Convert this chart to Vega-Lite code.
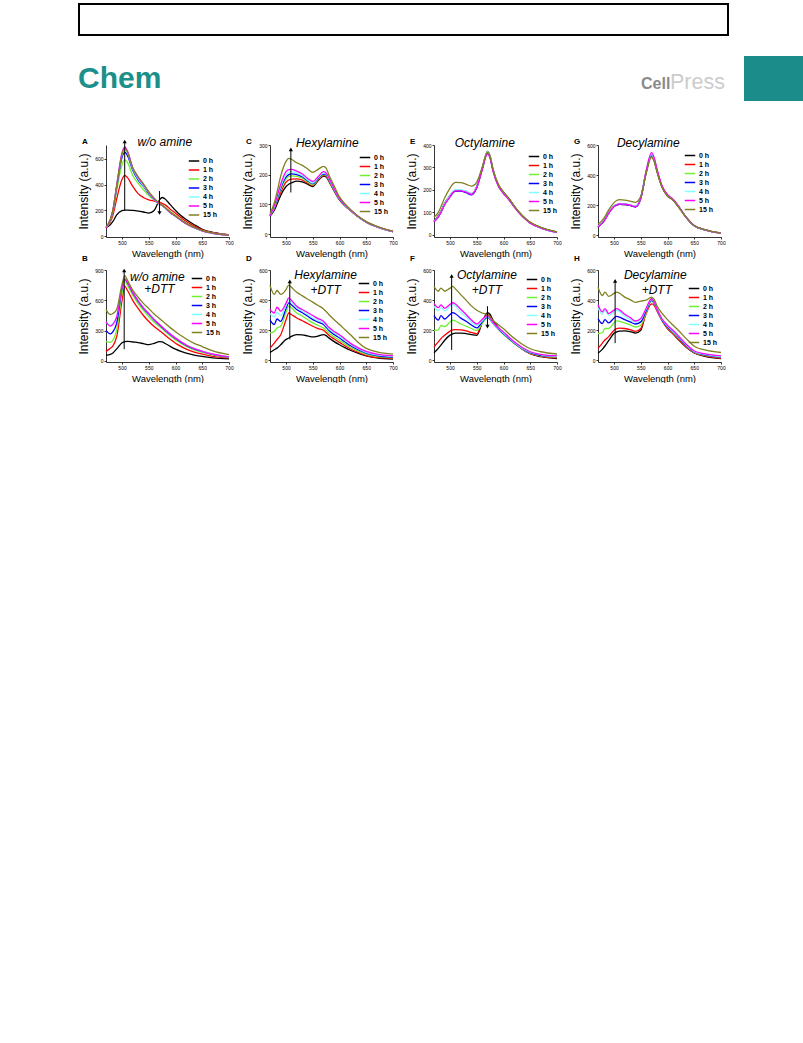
{
"$schema":"https://vega.github.io/schema/vega-lite/v6.json",
"background":"white",
"padding":{"left":77,"top":2,"right":0,"bottom":0},
"autosize":{"type":"pad"},
"spacing":35,
"config":{
 "view":{"stroke":null},
 "font":"Liberation Sans",
 "axis":{"grid":false,"domainColor":"#000","tickColor":"#000","labelColor":"#000","titleColor":"#000","labelFontSize":5,"titleFontSize":9.5,"titleFontWeight":"normal","tickSize":2,"labelPadding":1,"labelFlush":false,"labelOverlap":false,"labelBound":false,"labelSeparation":0,"domainWidth":0.8,"tickWidth":0.8,"labelFont":"Liberation Sans","titleFont":"Liberation Sans"},
 "axisY":{"titleFontSize":12,"titlePadding":4},
 "axisX":{"titlePadding":3},
 "legend":{"symbolType":"stroke","symbolSize":110,"symbolStrokeWidth":1.5,"labelFontSize":7,"labelFontWeight":"bold","labelFont":"Liberation Sans","rowPadding":-0.7,"padding":0,"labelOffset":3,"labelColor":"#000"},
 "text":{"font":"Liberation Sans","color":"#000"}
},
"vconcat":[
{
 "width":698,"height":98,
 "data":{"values":[{}]},
 "layer":[
  {"mark":{"type":"rect","filled":false,"color":"#000","strokeWidth":2},"encoding":{"x":{"datum":78,"type":"quantitative","scale":{"domain":[105,803],"nice":false,"zero":false},"axis":null},"x2":{"datum":727},"y":{"datum":3,"type":"quantitative","scale":{"domain":[2,100],"reverse":true,"nice":false,"zero":false},"axis":null},"y2":{"datum":34}}},
  {"mark":{"type":"rect","color":"#1b8c89"},"encoding":{"x":{"datum":743,"type":"quantitative","axis":null},"x2":{"datum":803},"y":{"datum":55,"type":"quantitative","axis":null},"y2":{"datum":100}}},
  {"mark":{"type":"text","text":"Chem","align":"left","baseline":"alphabetic","fontSize":30,"fontWeight":"bold","color":"#1b8f8a"},"encoding":{"x":{"datum":77,"type":"quantitative","axis":null},"y":{"datum":87,"type":"quantitative","axis":null}}},
  {"mark":{"type":"text","text":"Cell","align":"left","baseline":"alphabetic","fontSize":16,"fontWeight":"bold","color":"#8a8a8a"},"encoding":{"x":{"datum":640,"type":"quantitative","axis":null},"y":{"datum":88,"type":"quantitative","axis":null}}},
  {"mark":{"type":"text","text":"Press","align":"left","baseline":"alphabetic","fontSize":21.5,"color":"#cccccc"},"encoding":{"x":{"datum":669,"type":"quantitative","axis":null},"y":{"datum":88,"type":"quantitative","axis":null}}}
 ]
},
{
 "columns":4,
 "spacing":{"row":33,"column":41},
 "bounds":"flush",
 "resolve":{"scale":{"color":"independent","x":"independent","y":"independent"}},
 "data":{"values":[
{"p":"A","w":470,"0 h":70,"1 h":65,"2 h":65,"3 h":65,"4 h":65,"5 h":65,"15 h":75},
{"p":"A","w":478,"0 h":90,"1 h":110,"2 h":120,"3 h":125,"4 h":125,"5 h":128,"15 h":130},
{"p":"A","w":483,"0 h":115,"1 h":165,"2 h":190,"3 h":200,"4 h":205,"5 h":205,"15 h":205},
{"p":"A","w":490,"0 h":165,"1 h":290,"2 h":350,"3 h":380,"4 h":390,"5 h":395,"15 h":390},
{"p":"A","w":500,"0 h":198,"1 h":440,"2 h":555,"3 h":610,"4 h":630,"5 h":645,"15 h":635},
{"p":"A","w":505,"0 h":202,"1 h":470,"2 h":590,"3 h":650,"4 h":670,"5 h":690,"15 h":680},
{"p":"A","w":510,"0 h":203,"1 h":455,"2 h":570,"3 h":625,"4 h":645,"5 h":660,"15 h":650},
{"p":"A","w":520,"0 h":200,"1 h":385,"2 h":470,"3 h":510,"4 h":520,"5 h":530,"15 h":530},
{"p":"A","w":530,"0 h":195,"1 h":330,"2 h":410,"3 h":435,"4 h":445,"5 h":455,"15 h":460},
{"p":"A","w":540,"0 h":188,"1 h":300,"2 h":360,"3 h":385,"4 h":390,"5 h":400,"15 h":405},
{"p":"A","w":550,"0 h":180,"1 h":282,"2 h":315,"3 h":330,"4 h":335,"5 h":340,"15 h":345},
{"p":"A","w":560,"0 h":200,"1 h":272,"2 h":280,"3 h":285,"4 h":285,"5 h":290,"15 h":295},
{"p":"A","w":570,"0 h":280,"1 h":262,"2 h":250,"3 h":250,"4 h":248,"5 h":250,"15 h":255},
{"p":"A","w":575,"0 h":300,"1 h":255,"2 h":240,"3 h":238,"4 h":236,"5 h":238,"15 h":240},
{"p":"A","w":580,"0 h":290,"1 h":245,"2 h":225,"3 h":222,"4 h":220,"5 h":222,"15 h":225},
{"p":"A","w":590,"0 h":245,"1 h":210,"2 h":190,"3 h":185,"4 h":185,"5 h":185,"15 h":188},
{"p":"A","w":600,"0 h":200,"1 h":178,"2 h":160,"3 h":155,"4 h":155,"5 h":155,"15 h":158},
{"p":"A","w":610,"0 h":160,"1 h":145,"2 h":130,"3 h":125,"4 h":125,"5 h":125,"15 h":128},
{"p":"A","w":620,"0 h":130,"1 h":115,"2 h":100,"3 h":97,"4 h":96,"5 h":97,"15 h":100},
{"p":"A","w":635,"0 h":90,"1 h":80,"2 h":70,"3 h":68,"4 h":67,"5 h":68,"15 h":70},
{"p":"A","w":650,"0 h":55,"1 h":50,"2 h":45,"3 h":43,"4 h":42,"5 h":43,"15 h":45},
{"p":"A","w":670,"0 h":30,"1 h":28,"2 h":25,"3 h":24,"4 h":24,"5 h":24,"15 h":25},
{"p":"A","w":700,"0 h":12,"1 h":12,"2 h":10,"3 h":10,"4 h":10,"5 h":10,"15 h":10},
{"p":"C","w":470,"0 h":60,"1 h":62,"2 h":62,"3 h":62,"4 h":63,"5 h":63,"15 h":70},
{"p":"C","w":478,"0 h":80,"1 h":85,"2 h":88,"3 h":90,"4 h":92,"5 h":95,"15 h":105},
{"p":"C","w":483,"0 h":100,"1 h":108,"2 h":112,"3 h":115,"4 h":120,"5 h":125,"15 h":140},
{"p":"C","w":490,"0 h":130,"1 h":140,"2 h":150,"3 h":155,"4 h":160,"5 h":168,"15 h":195},
{"p":"C","w":500,"0 h":160,"1 h":175,"2 h":185,"3 h":192,"4 h":200,"5 h":210,"15 h":245},
{"p":"C","w":505,"0 h":168,"1 h":182,"2 h":194,"3 h":200,"4 h":208,"5 h":217,"15 h":255},
{"p":"C","w":510,"0 h":172,"1 h":185,"2 h":196,"3 h":203,"4 h":210,"5 h":218,"15 h":252},
{"p":"C","w":520,"0 h":178,"1 h":186,"2 h":194,"3 h":200,"4 h":205,"5 h":212,"15 h":240},
{"p":"C","w":530,"0 h":176,"1 h":182,"2 h":188,"3 h":193,"4 h":197,"5 h":203,"15 h":232},
{"p":"C","w":540,"0 h":168,"1 h":172,"2 h":176,"3 h":180,"4 h":183,"5 h":188,"15 h":220},
{"p":"C","w":550,"0 h":160,"1 h":163,"2 h":166,"3 h":170,"4 h":172,"5 h":177,"15 h":208},
{"p":"C","w":560,"0 h":180,"1 h":182,"2 h":185,"3 h":188,"4 h":190,"5 h":193,"15 h":218},
{"p":"C","w":570,"0 h":195,"1 h":198,"2 h":200,"3 h":203,"4 h":205,"5 h":210,"15 h":228},
{"p":"C","w":575,"0 h":192,"1 h":195,"2 h":197,"3 h":200,"4 h":202,"5 h":206,"15 h":222},
{"p":"C","w":580,"0 h":178,"1 h":180,"2 h":182,"3 h":185,"4 h":187,"5 h":190,"15 h":200},
{"p":"C","w":590,"0 h":145,"1 h":146,"2 h":148,"3 h":150,"4 h":151,"5 h":153,"15 h":162},
{"p":"C","w":600,"0 h":115,"1 h":116,"2 h":117,"3 h":118,"4 h":119,"5 h":120,"15 h":125},
{"p":"C","w":610,"0 h":95,"1 h":96,"2 h":97,"3 h":98,"4 h":98,"5 h":99,"15 h":102},
{"p":"C","w":620,"0 h":80,"1 h":80,"2 h":80,"3 h":81,"4 h":81,"5 h":82,"15 h":84},
{"p":"C","w":635,"0 h":58,"1 h":58,"2 h":58,"3 h":58,"4 h":58,"5 h":59,"15 h":60},
{"p":"C","w":650,"0 h":40,"1 h":40,"2 h":40,"3 h":40,"4 h":40,"5 h":41,"15 h":42},
{"p":"C","w":670,"0 h":24,"1 h":24,"2 h":24,"3 h":24,"4 h":24,"5 h":25,"15 h":26},
{"p":"C","w":700,"0 h":8,"1 h":8,"2 h":8,"3 h":8,"4 h":8,"5 h":9,"15 h":10},
{"p":"E","w":470,"0 h":62,"1 h":60,"2 h":60,"3 h":58,"4 h":60,"5 h":58,"15 h":78},
{"p":"E","w":478,"0 h":85,"1 h":82,"2 h":82,"3 h":80,"4 h":82,"5 h":80,"15 h":100},
{"p":"E","w":483,"0 h":105,"1 h":102,"2 h":102,"3 h":100,"4 h":102,"5 h":100,"15 h":125},
{"p":"E","w":490,"0 h":140,"1 h":138,"2 h":138,"3 h":135,"4 h":138,"5 h":135,"15 h":165},
{"p":"E","w":500,"0 h":175,"1 h":172,"2 h":172,"3 h":170,"4 h":175,"5 h":170,"15 h":208},
{"p":"E","w":505,"0 h":190,"1 h":188,"2 h":188,"3 h":186,"4 h":192,"5 h":188,"15 h":225},
{"p":"E","w":510,"0 h":198,"1 h":196,"2 h":196,"3 h":194,"4 h":200,"5 h":196,"15 h":233},
{"p":"E","w":520,"0 h":198,"1 h":196,"2 h":196,"3 h":194,"4 h":200,"5 h":196,"15 h":232},
{"p":"E","w":530,"0 h":193,"1 h":190,"2 h":190,"3 h":188,"4 h":194,"5 h":190,"15 h":225},
{"p":"E","w":540,"0 h":183,"1 h":180,"2 h":180,"3 h":178,"4 h":184,"5 h":180,"15 h":217},
{"p":"E","w":550,"0 h":215,"1 h":212,"2 h":212,"3 h":210,"4 h":215,"5 h":212,"15 h":235},
{"p":"E","w":560,"0 h":295,"1 h":292,"2 h":292,"3 h":290,"4 h":295,"5 h":290,"15 h":300},
{"p":"E","w":570,"0 h":372,"1 h":368,"2 h":370,"3 h":365,"4 h":370,"5 h":360,"15 h":368},
{"p":"E","w":575,"0 h":350,"1 h":346,"2 h":348,"3 h":344,"4 h":348,"5 h":340,"15 h":348},
{"p":"E","w":580,"0 h":295,"1 h":292,"2 h":293,"3 h":290,"4 h":292,"5 h":286,"15 h":295},
{"p":"E","w":590,"0 h":225,"1 h":222,"2 h":222,"3 h":220,"4 h":222,"5 h":218,"15 h":226},
{"p":"E","w":600,"0 h":190,"1 h":187,"2 h":187,"3 h":185,"4 h":186,"5 h":183,"15 h":190},
{"p":"E","w":610,"0 h":162,"1 h":160,"2 h":160,"3 h":158,"4 h":159,"5 h":156,"15 h":162},
{"p":"E","w":620,"0 h":128,"1 h":126,"2 h":126,"3 h":125,"4 h":125,"5 h":123,"15 h":128},
{"p":"E","w":635,"0 h":85,"1 h":84,"2 h":84,"3 h":83,"4 h":83,"5 h":82,"15 h":86},
{"p":"E","w":650,"0 h":55,"1 h":54,"2 h":54,"3 h":53,"4 h":53,"5 h":52,"15 h":56},
{"p":"E","w":670,"0 h":32,"1 h":31,"2 h":31,"3 h":30,"4 h":30,"5 h":30,"15 h":33},
{"p":"E","w":700,"0 h":12,"1 h":12,"2 h":12,"3 h":11,"4 h":11,"5 h":11,"15 h":13},
{"p":"G","w":470,"0 h":60,"1 h":58,"2 h":60,"3 h":58,"4 h":60,"5 h":58,"15 h":75},
{"p":"G","w":478,"0 h":85,"1 h":82,"2 h":85,"3 h":82,"4 h":85,"5 h":82,"15 h":100},
{"p":"G","w":483,"0 h":108,"1 h":105,"2 h":108,"3 h":105,"4 h":108,"5 h":105,"15 h":125},
{"p":"G","w":490,"0 h":150,"1 h":148,"2 h":150,"3 h":148,"4 h":150,"5 h":148,"15 h":170},
{"p":"G","w":500,"0 h":195,"1 h":192,"2 h":195,"3 h":192,"4 h":195,"5 h":192,"15 h":218},
{"p":"G","w":505,"0 h":205,"1 h":202,"2 h":205,"3 h":202,"4 h":205,"5 h":204,"15 h":232},
{"p":"G","w":510,"0 h":210,"1 h":207,"2 h":210,"3 h":207,"4 h":212,"5 h":210,"15 h":238},
{"p":"G","w":520,"0 h":208,"1 h":205,"2 h":208,"3 h":205,"4 h":210,"5 h":208,"15 h":235},
{"p":"G","w":530,"0 h":202,"1 h":199,"2 h":202,"3 h":199,"4 h":203,"5 h":201,"15 h":228},
{"p":"G","w":540,"0 h":193,"1 h":190,"2 h":193,"3 h":190,"4 h":194,"5 h":192,"15 h":220},
{"p":"G","w":550,"0 h":250,"1 h":245,"2 h":250,"3 h":245,"4 h":250,"5 h":248,"15 h":260},
{"p":"G","w":560,"0 h":420,"1 h":415,"2 h":420,"3 h":418,"4 h":425,"5 h":428,"15 h":410},
{"p":"G","w":570,"0 h":530,"1 h":532,"2 h":535,"3 h":538,"4 h":540,"5 h":550,"15 h":518},
{"p":"G","w":575,"0 h":500,"1 h":500,"2 h":505,"3 h":508,"4 h":510,"5 h":518,"15 h":490},
{"p":"G","w":580,"0 h":432,"1 h":430,"2 h":435,"3 h":437,"4 h":438,"5 h":445,"15 h":425},
{"p":"G","w":590,"0 h":320,"1 h":318,"2 h":320,"3 h":322,"4 h":323,"5 h":328,"15 h":318},
{"p":"G","w":600,"0 h":265,"1 h":262,"2 h":264,"3 h":265,"4 h":266,"5 h":270,"15 h":262},
{"p":"G","w":610,"0 h":238,"1 h":235,"2 h":236,"3 h":237,"4 h":238,"5 h":242,"15 h":235},
{"p":"G","w":620,"0 h":195,"1 h":192,"2 h":193,"3 h":194,"4 h":195,"5 h":198,"15 h":193},
{"p":"G","w":635,"0 h":120,"1 h":118,"2 h":118,"3 h":119,"4 h":120,"5 h":121,"15 h":120},
{"p":"G","w":650,"0 h":65,"1 h":64,"2 h":64,"3 h":64,"4 h":65,"5 h":66,"15 h":66},
{"p":"G","w":670,"0 h":38,"1 h":37,"2 h":37,"3 h":37,"4 h":38,"5 h":38,"15 h":39},
{"p":"G","w":700,"0 h":15,"1 h":15,"2 h":15,"3 h":15,"4 h":15,"5 h":15,"15 h":17},
{"p":"B","w":470,"0 h":55,"1 h":95,"2 h":192,"3 h":300,"4 h":385,"5 h":388,"15 h":508},
{"p":"B","w":478,"0 h":65,"1 h":125,"2 h":185,"3 h":268,"4 h":355,"5 h":345,"15 h":460},
{"p":"B","w":483,"0 h":80,"1 h":150,"2 h":205,"3 h":290,"4 h":370,"5 h":362,"15 h":470},
{"p":"B","w":490,"0 h":120,"1 h":240,"2 h":310,"3 h":375,"4 h":440,"5 h":435,"15 h":510},
{"p":"B","w":500,"0 h":180,"1 h":600,"2 h":665,"3 h":720,"4 h":735,"5 h":730,"15 h":760},
{"p":"B","w":505,"0 h":192,"1 h":740,"2 h":795,"3 h":812,"4 h":818,"5 h":812,"15 h":845},
{"p":"B","w":510,"0 h":195,"1 h":700,"2 h":750,"3 h":775,"4 h":782,"5 h":778,"15 h":800},
{"p":"B","w":520,"0 h":188,"1 h":600,"2 h":650,"3 h":672,"4 h":680,"5 h":678,"15 h":700},
{"p":"B","w":530,"0 h":182,"1 h":520,"2 h":567,"3 h":590,"4 h":598,"5 h":596,"15 h":632},
{"p":"B","w":540,"0 h":172,"1 h":450,"2 h":500,"3 h":520,"4 h":528,"5 h":526,"15 h":570},
{"p":"B","w":550,"0 h":162,"1 h":390,"2 h":437,"3 h":463,"4 h":470,"5 h":468,"15 h":518},
{"p":"B","w":560,"0 h":175,"1 h":340,"2 h":385,"3 h":405,"4 h":412,"5 h":410,"15 h":465},
{"p":"B","w":570,"0 h":192,"1 h":300,"2 h":340,"3 h":355,"4 h":362,"5 h":360,"15 h":420},
{"p":"B","w":575,"0 h":188,"1 h":280,"2 h":318,"3 h":332,"4 h":338,"5 h":336,"15 h":398},
{"p":"B","w":580,"0 h":175,"1 h":258,"2 h":295,"3 h":308,"4 h":314,"5 h":312,"15 h":375},
{"p":"B","w":590,"0 h":145,"1 h":215,"2 h":250,"3 h":262,"4 h":268,"5 h":266,"15 h":330},
{"p":"B","w":600,"0 h":117,"1 h":176,"2 h":209,"3 h":222,"4 h":228,"5 h":226,"15 h":290},
{"p":"B","w":610,"0 h":95,"1 h":145,"2 h":175,"3 h":187,"4 h":192,"5 h":190,"15 h":252},
{"p":"B","w":620,"0 h":78,"1 h":118,"2 h":145,"3 h":155,"4 h":160,"5 h":158,"15 h":218},
{"p":"B","w":635,"0 h":58,"1 h":88,"2 h":110,"3 h":120,"4 h":124,"5 h":122,"15 h":175},
{"p":"B","w":650,"0 h":45,"1 h":68,"2 h":85,"3 h":95,"4 h":98,"5 h":96,"15 h":143},
{"p":"B","w":670,"0 h":30,"1 h":45,"2 h":58,"3 h":66,"4 h":68,"5 h":67,"15 h":100},
{"p":"B","w":700,"0 h":20,"1 h":30,"2 h":36,"3 h":40,"4 h":42,"5 h":41,"15 h":62},
{"p":"D","w":470,"0 h":53,"1 h":82,"2 h":182,"3 h":267,"4 h":311,"5 h":338,"15 h":498},
{"p":"D","w":478,"0 h":71,"1 h":115,"2 h":193,"3 h":238,"4 h":289,"5 h":315,"15 h":438},
{"p":"D","w":483,"0 h":82,"1 h":138,"2 h":215,"3 h":275,"4 h":320,"5 h":353,"15 h":464},
{"p":"D","w":490,"0 h":104,"1 h":171,"2 h":227,"3 h":260,"4 h":298,"5 h":327,"15 h":438},
{"p":"D","w":500,"0 h":140,"1 h":270,"2 h":320,"3 h":345,"4 h":365,"5 h":380,"15 h":470},
{"p":"D","w":505,"0 h":149,"1 h":315,"2 h":360,"3 h":382,"4 h":400,"5 h":415,"15 h":500},
{"p":"D","w":510,"0 h":160,"1 h":305,"2 h":350,"3 h":370,"4 h":385,"5 h":400,"15 h":485},
{"p":"D","w":520,"0 h":171,"1 h":282,"2 h":315,"3 h":338,"4 h":349,"5 h":360,"15 h":453},
{"p":"D","w":530,"0 h":170,"1 h":265,"2 h":295,"3 h":318,"4 h":328,"5 h":338,"15 h":430},
{"p":"D","w":540,"0 h":163,"1 h":245,"2 h":272,"3 h":295,"4 h":305,"5 h":318,"15 h":408},
{"p":"D","w":550,"0 h":156,"1 h":227,"2 h":249,"3 h":271,"4 h":282,"5 h":298,"15 h":387},
{"p":"D","w":560,"0 h":162,"1 h":212,"2 h":232,"3 h":254,"4 h":265,"5 h":278,"15 h":365},
{"p":"D","w":570,"0 h":171,"1 h":200,"2 h":215,"3 h":238,"4 h":249,"5 h":260,"15 h":342},
{"p":"D","w":575,"0 h":165,"1 h":185,"2 h":200,"3 h":220,"4 h":230,"5 h":240,"15 h":325},
{"p":"D","w":580,"0 h":150,"1 h":168,"2 h":183,"3 h":200,"4 h":210,"5 h":220,"15 h":305},
{"p":"D","w":590,"0 h":125,"1 h":142,"2 h":156,"3 h":172,"4 h":182,"5 h":192,"15 h":270},
{"p":"D","w":600,"0 h":104,"1 h":120,"2 h":133,"3 h":149,"4 h":160,"5 h":171,"15 h":238},
{"p":"D","w":610,"0 h":85,"1 h":98,"2 h":110,"3 h":124,"4 h":133,"5 h":142,"15 h":205},
{"p":"D","w":620,"0 h":68,"1 h":78,"2 h":88,"3 h":100,"4 h":108,"5 h":115,"15 h":172},
{"p":"D","w":635,"0 h":48,"1 h":54,"2 h":62,"3 h":72,"4 h":78,"5 h":84,"15 h":120},
{"p":"D","w":650,"0 h":31,"1 h":33,"2 h":42,"3 h":49,"4 h":53,"5 h":60,"15 h":80},
{"p":"D","w":670,"0 h":18,"1 h":20,"2 h":27,"3 h":33,"4 h":37,"5 h":42,"15 h":57},
{"p":"D","w":700,"0 h":9,"1 h":13,"2 h":18,"3 h":22,"4 h":27,"5 h":31,"15 h":42},
{"p":"F","w":470,"0 h":52,"1 h":91,"2 h":199,"3 h":297,"4 h":361,"5 h":377,"15 h":491},
{"p":"F","w":478,"0 h":80,"1 h":123,"2 h":203,"3 h":268,"4 h":329,"5 h":351,"15 h":459},
{"p":"F","w":483,"0 h":102,"1 h":145,"2 h":232,"3 h":297,"4 h":351,"5 h":368,"15 h":480},
{"p":"F","w":490,"0 h":134,"1 h":167,"2 h":225,"3 h":275,"4 h":329,"5 h":346,"15 h":459},
{"p":"F","w":500,"0 h":168,"1 h":195,"2 h":255,"3 h":305,"4 h":360,"5 h":372,"15 h":480},
{"p":"F","w":505,"0 h":177,"1 h":203,"2 h":268,"3 h":318,"4 h":372,"5 h":383,"15 h":491},
{"p":"F","w":510,"0 h":182,"1 h":205,"2 h":262,"3 h":310,"4 h":362,"5 h":375,"15 h":475},
{"p":"F","w":520,"0 h":182,"1 h":203,"2 h":242,"3 h":281,"4 h":318,"5 h":340,"15 h":437},
{"p":"F","w":530,"0 h":178,"1 h":196,"2 h":228,"3 h":260,"4 h":290,"5 h":305,"15 h":400},
{"p":"F","w":540,"0 h":172,"1 h":186,"2 h":212,"3 h":235,"4 h":255,"5 h":268,"15 h":362},
{"p":"F","w":550,"0 h":167,"1 h":177,"2 h":199,"3 h":216,"4 h":232,"5 h":242,"15 h":333},
{"p":"F","w":560,"0 h":250,"1 h":250,"2 h":245,"3 h":255,"4 h":262,"5 h":272,"15 h":315},
{"p":"F","w":570,"0 h":318,"1 h":305,"2 h":285,"3 h":288,"4 h":292,"5 h":297,"15 h":303},
{"p":"F","w":575,"0 h":305,"1 h":290,"2 h":272,"3 h":272,"4 h":275,"5 h":280,"15 h":290},
{"p":"F","w":580,"0 h":270,"1 h":260,"2 h":248,"3 h":248,"4 h":250,"5 h":255,"15 h":268},
{"p":"F","w":590,"0 h":220,"1 h":215,"2 h":208,"3 h":210,"4 h":213,"5 h":218,"15 h":238},
{"p":"F","w":600,"0 h":182,"1 h":177,"2 h":173,"3 h":177,"4 h":182,"5 h":188,"15 h":210},
{"p":"F","w":610,"0 h":150,"1 h":145,"2 h":142,"3 h":146,"4 h":150,"5 h":155,"15 h":178},
{"p":"F","w":620,"0 h":120,"1 h":115,"2 h":112,"3 h":116,"4 h":120,"5 h":124,"15 h":148},
{"p":"F","w":635,"0 h":75,"1 h":76,"2 h":76,"3 h":80,"4 h":82,"5 h":86,"15 h":108},
{"p":"F","w":650,"0 h":45,"1 h":46,"2 h":48,"3 h":52,"4 h":56,"5 h":58,"15 h":78},
{"p":"F","w":670,"0 h":25,"1 h":28,"2 h":30,"3 h":34,"4 h":38,"5 h":40,"15 h":58},
{"p":"F","w":700,"0 h":13,"1 h":17,"2 h":22,"3 h":26,"4 h":28,"5 h":30,"15 h":43},
{"p":"H","w":470,"0 h":48,"1 h":81,"2 h":179,"3 h":278,"4 h":350,"5 h":370,"15 h":486},
{"p":"H","w":478,"0 h":74,"1 h":114,"2 h":184,"3 h":245,"4 h":306,"5 h":322,"15 h":431},
{"p":"H","w":483,"0 h":96,"1 h":136,"2 h":212,"3 h":271,"4 h":333,"5 h":344,"15 h":453},
{"p":"H","w":490,"0 h":131,"1 h":158,"2 h":212,"3 h":249,"4 h":300,"5 h":311,"15 h":425},
{"p":"H","w":500,"0 h":180,"1 h":200,"2 h":250,"3 h":282,"4 h":322,"5 h":334,"15 h":445},
{"p":"H","w":505,"0 h":190,"1 h":212,"2 h":263,"3 h":293,"4 h":333,"5 h":344,"15 h":453},
{"p":"H","w":510,"0 h":195,"1 h":214,"2 h":260,"3 h":288,"4 h":325,"5 h":336,"15 h":446},
{"p":"H","w":520,"0 h":197,"1 h":212,"2 h":249,"3 h":271,"4 h":293,"5 h":306,"15 h":420},
{"p":"H","w":530,"0 h":192,"1 h":205,"2 h":236,"3 h":256,"4 h":273,"5 h":285,"15 h":404},
{"p":"H","w":540,"0 h":182,"1 h":193,"2 h":222,"3 h":242,"4 h":253,"5 h":262,"15 h":385},
{"p":"H","w":550,"0 h":200,"1 h":212,"2 h":234,"3 h":256,"4 h":271,"5 h":278,"15 h":394},
{"p":"H","w":560,"0 h":330,"1 h":310,"2 h":320,"3 h":330,"4 h":340,"5 h":345,"15 h":400},
{"p":"H","w":570,"0 h":409,"1 h":376,"2 h":394,"3 h":398,"4 h":403,"5 h":409,"15 h":420},
{"p":"H","w":575,"0 h":385,"1 h":365,"2 h":378,"3 h":380,"4 h":385,"5 h":390,"15 h":405},
{"p":"H","w":580,"0 h":340,"1 h":330,"2 h":338,"3 h":340,"4 h":344,"5 h":344,"15 h":365},
{"p":"H","w":590,"0 h":265,"1 h":262,"2 h":265,"3 h":268,"4 h":272,"5 h":275,"15 h":312},
{"p":"H","w":600,"0 h":212,"1 h":212,"2 h":219,"3 h":223,"4 h":228,"5 h":234,"15 h":271},
{"p":"H","w":610,"0 h":178,"1 h":178,"2 h":185,"3 h":190,"4 h":194,"5 h":200,"15 h":235},
{"p":"H","w":620,"0 h":140,"1 h":142,"2 h":150,"3 h":155,"4 h":160,"5 h":165,"15 h":200},
{"p":"H","w":635,"0 h":88,"1 h":90,"2 h":95,"3 h":100,"4 h":104,"5 h":108,"15 h":145},
{"p":"H","w":650,"0 h":50,"1 h":52,"2 h":55,"3 h":58,"4 h":60,"5 h":63,"15 h":95},
{"p":"H","w":670,"0 h":28,"1 h":30,"2 h":34,"3 h":38,"4 h":40,"5 h":44,"15 h":70},
{"p":"H","w":700,"0 h":13,"1 h":15,"2 h":22,"3 h":24,"4 h":26,"5 h":31,"15 h":53}
 ]},
 "concat":[
 {"width":123,"height":92,"layer":[
  {"mark":{"type":"line","strokeWidth":1.3,"interpolate":"monotone"},"transform":[{"filter":"datum.p==='A'"},{"fold":["0 h","1 h","2 h","3 h","4 h","5 h","15 h"],"as":["t","v"]}],
   "encoding":{"x":{"field":"w","type":"quantitative","scale":{"domain":[470,700],"nice":false,"zero":false},"axis":{"title":"Wavelength (nm)","values":[500,550,600,650,700],"tickCount":10,"labelOverlap":false}},
    "y":{"field":"v","type":"quantitative","scale":{"domain":[-5,705],"nice":false,"zero":false},"axis":{"title":"Intensity (a.u.)","values":[0,200,400,600],"tickCount":10,"labelOverlap":false}},
    "color":{"field":"t","type":"nominal","scale":{"domain":["0 h","1 h","2 h","3 h","4 h","5 h","15 h"],"range":["#000000","#ff0000","#70f030","#0000ff","#80ffff","#ff00ff","#808020"]},"legend":{"title":null,"orient":"none","legendX":82,"legendY":10}}}},
  {"data":{"values":[{}]},"mark":{"type":"rule","color":"#000","strokeWidth":1},"encoding":{"x":{"datum":505,"type":"quantitative"},"y":{"datum":200,"type":"quantitative"},"y2":{"datum":732}}},
  {"data":{"values":[{}]},"mark":{"type":"point","shape":"triangle-up","filled":true,"color":"#000","size":18,"opacity":1},"encoding":{"x":{"datum":505,"type":"quantitative"},"y":{"datum":732,"type":"quantitative"}}},
  {"data":{"values":[{}]},"mark":{"type":"rule","color":"#000","strokeWidth":1},"encoding":{"x":{"datum":570,"type":"quantitative"},"y":{"datum":350,"type":"quantitative"},"y2":{"datum":180}}},
  {"data":{"values":[{}]},"mark":{"type":"point","shape":"triangle-down","filled":true,"color":"#000","size":18,"opacity":1},"encoding":{"x":{"datum":570,"type":"quantitative"},"y":{"datum":180,"type":"quantitative"}}},
  {"data":{"values":[{}]},"mark":{"type":"text","text":"w/o amine","fontStyle":"italic","fontSize":12,"align":"center","baseline":"alphabetic"},"encoding":{"x":{"datum":580,"type":"quantitative"},"y":{"datum":697,"type":"quantitative"}}},
  {"data":{"values":[{}]},"mark":{"type":"text","text":"A","fontWeight":"bold","fontSize":8,"align":"left","baseline":"alphabetic"},"encoding":{"x":{"datum":425,"type":"quantitative"},"y":{"datum":713,"type":"quantitative"}}}
 ]},
 {"width":123,"height":92,"layer":[
  {"mark":{"type":"line","strokeWidth":1.3,"interpolate":"monotone"},"transform":[{"filter":"datum.p==='C'"},{"fold":["0 h","1 h","2 h","3 h","4 h","5 h","15 h"],"as":["t","v"]}],
   "encoding":{"x":{"field":"w","type":"quantitative","scale":{"domain":[470,700],"nice":false,"zero":false},"axis":{"title":"Wavelength (nm)","values":[500,550,600,650,700],"tickCount":10,"labelOverlap":false}},
    "y":{"field":"v","type":"quantitative","scale":{"domain":[-10,300],"nice":false,"zero":false},"axis":{"title":"Intensity (a.u.)","values":[0,100,200,300],"tickCount":10,"labelOverlap":false}},
    "color":{"field":"t","type":"nominal","scale":{"domain":["0 h","1 h","2 h","3 h","4 h","5 h","15 h"],"range":["#000000","#ff0000","#70f030","#0000ff","#80ffff","#ff00ff","#808020"]},"legend":{"title":null,"orient":"none","legendX":89,"legendY":6.5}}}},
  {"data":{"values":[{}]},"mark":{"type":"rule","color":"#000","strokeWidth":1},"encoding":{"x":{"datum":509,"type":"quantitative"},"y":{"datum":140,"type":"quantitative"},"y2":{"datum":285}}},
  {"data":{"values":[{}]},"mark":{"type":"point","shape":"triangle-up","filled":true,"color":"#000","size":18,"opacity":1},"encoding":{"x":{"datum":509,"type":"quantitative"},"y":{"datum":285,"type":"quantitative"}}},
  {"data":{"values":[{}]},"mark":{"type":"text","text":"Hexylamine","fontStyle":"italic","fontSize":12,"align":"center","baseline":"alphabetic"},"encoding":{"x":{"datum":577,"type":"quantitative"},"y":{"datum":293,"type":"quantitative"}}},
  {"data":{"values":[{}]},"mark":{"type":"text","text":"C","fontWeight":"bold","fontSize":8,"align":"left","baseline":"alphabetic"},"encoding":{"x":{"datum":425,"type":"quantitative"},"y":{"datum":303,"type":"quantitative"}}}
 ]},
 {"width":123,"height":92,"layer":[
  {"mark":{"type":"line","strokeWidth":1.3,"interpolate":"monotone"},"transform":[{"filter":"datum.p==='E'"},{"fold":["0 h","1 h","2 h","3 h","4 h","5 h","15 h"],"as":["t","v"]}],
   "encoding":{"x":{"field":"w","type":"quantitative","scale":{"domain":[470,700],"nice":false,"zero":false},"axis":{"title":"Wavelength (nm)","values":[500,550,600,650,700],"tickCount":10,"labelOverlap":false}},
    "y":{"field":"v","type":"quantitative","scale":{"domain":[-10,400],"nice":false,"zero":false},"axis":{"title":"Intensity (a.u.)","values":[0,100,200,300,400],"tickCount":10,"labelOverlap":false}},
    "color":{"field":"t","type":"nominal","scale":{"domain":["0 h","1 h","2 h","3 h","4 h","5 h","15 h"],"range":["#000000","#ff0000","#70f030","#0000ff","#80ffff","#ff00ff","#808020"]},"legend":{"title":null,"orient":"none","legendX":94,"legendY":5.5}}}},
  {"data":{"values":[{}]},"mark":{"type":"text","text":"Octylamine","fontStyle":"italic","fontSize":12,"align":"center","baseline":"alphabetic"},"encoding":{"x":{"datum":565,"type":"quantitative"},"y":{"datum":391,"type":"quantitative"}}},
  {"data":{"values":[{}]},"mark":{"type":"text","text":"E","fontWeight":"bold","fontSize":8,"align":"left","baseline":"alphabetic"},"encoding":{"x":{"datum":425,"type":"quantitative"},"y":{"datum":404,"type":"quantitative"}}}
 ]},
 {"width":123,"height":92,"layer":[
  {"mark":{"type":"line","strokeWidth":1.3,"interpolate":"monotone"},"transform":[{"filter":"datum.p==='G'"},{"fold":["0 h","1 h","2 h","3 h","4 h","5 h","15 h"],"as":["t","v"]}],
   "encoding":{"x":{"field":"w","type":"quantitative","scale":{"domain":[470,700],"nice":false,"zero":false},"axis":{"title":"Wavelength (nm)","values":[500,550,600,650,700],"tickCount":10,"labelOverlap":false}},
    "y":{"field":"v","type":"quantitative","scale":{"domain":[-10,600],"nice":false,"zero":false},"axis":{"title":"Intensity (a.u.)","values":[0,200,400,600],"tickCount":10,"labelOverlap":false}},
    "color":{"field":"t","type":"nominal","scale":{"domain":["0 h","1 h","2 h","3 h","4 h","5 h","15 h"],"range":["#000000","#ff0000","#70f030","#0000ff","#80ffff","#ff00ff","#808020"]},"legend":{"title":null,"orient":"none","legendX":86,"legendY":4.5}}}},
  {"data":{"values":[{}]},"mark":{"type":"text","text":"Decylamine","fontStyle":"italic","fontSize":12,"align":"center","baseline":"alphabetic"},"encoding":{"x":{"datum":564,"type":"quantitative"},"y":{"datum":587,"type":"quantitative"}}},
  {"data":{"values":[{}]},"mark":{"type":"text","text":"G","fontWeight":"bold","fontSize":8,"align":"left","baseline":"alphabetic"},"encoding":{"x":{"datum":425,"type":"quantitative"},"y":{"datum":607,"type":"quantitative"}}}
 ]},
 {"width":123,"height":92,"layer":[
  {"mark":{"type":"line","strokeWidth":1.3,"interpolate":"monotone"},"transform":[{"filter":"datum.p==='B'"},{"fold":["0 h","1 h","2 h","3 h","4 h","5 h","15 h"],"as":["t","v"]}],
   "encoding":{"x":{"field":"w","type":"quantitative","scale":{"domain":[470,700],"nice":false,"zero":false},"axis":{"title":"Wavelength (nm)","values":[500,550,600,650,700],"tickCount":10,"labelOverlap":false}},
    "y":{"field":"v","type":"quantitative","scale":{"domain":[-10,900],"nice":false,"zero":false},"axis":{"title":"Intensity (a.u.)","values":[0,300,600,900],"tickCount":10,"labelOverlap":false}},
    "color":{"field":"t","type":"nominal","scale":{"domain":["0 h","1 h","2 h","3 h","4 h","5 h","15 h"],"range":["#000000","#ff0000","#70f030","#0000ff","#80ffff","#ff00ff","#808020"]},"legend":{"title":null,"orient":"none","legendX":85,"legendY":2.5}}}},
  {"data":{"values":[{}]},"mark":{"type":"rule","color":"#000","strokeWidth":1},"encoding":{"x":{"datum":504,"type":"quantitative"},"y":{"datum":117,"type":"quantitative"},"y2":{"datum":895}}},
  {"data":{"values":[{}]},"mark":{"type":"point","shape":"triangle-up","filled":true,"color":"#000","size":18,"opacity":1},"encoding":{"x":{"datum":504,"type":"quantitative"},"y":{"datum":895,"type":"quantitative"}}},
  {"data":{"values":[{}]},"mark":{"type":"text","text":"w/o amine","fontStyle":"italic","fontSize":12,"align":"center","baseline":"alphabetic"},"encoding":{"x":{"datum":566,"type":"quantitative"},"y":{"datum":791,"type":"quantitative"}}},
  {"data":{"values":[{}]},"mark":{"type":"text","text":"+DTT","fontStyle":"italic","fontSize":12,"align":"center","baseline":"alphabetic"},"encoding":{"x":{"datum":570,"type":"quantitative"},"y":{"datum":673,"type":"quantitative"}}},
  {"data":{"values":[{}]},"mark":{"type":"text","text":"B","fontWeight":"bold","fontSize":8,"align":"left","baseline":"alphabetic"},"encoding":{"x":{"datum":425,"type":"quantitative"},"y":{"datum":989,"type":"quantitative"}}}
 ]},
 {"width":123,"height":92,"layer":[
  {"mark":{"type":"line","strokeWidth":1.3,"interpolate":"monotone"},"transform":[{"filter":"datum.p==='D'"},{"fold":["0 h","1 h","2 h","3 h","4 h","5 h","15 h"],"as":["t","v"]}],
   "encoding":{"x":{"field":"w","type":"quantitative","scale":{"domain":[470,700],"nice":false,"zero":false},"axis":{"title":"Wavelength (nm)","values":[500,550,600,650,700],"tickCount":10,"labelOverlap":false}},
    "y":{"field":"v","type":"quantitative","scale":{"domain":[-10,600],"nice":false,"zero":false},"axis":{"title":"Intensity (a.u.)","values":[0,200,400,600],"tickCount":10,"labelOverlap":false}},
    "color":{"field":"t","type":"nominal","scale":{"domain":["0 h","1 h","2 h","3 h","4 h","5 h","15 h"],"range":["#000000","#ff0000","#70f030","#0000ff","#80ffff","#ff00ff","#808020"]},"legend":{"title":null,"orient":"none","legendX":88,"legendY":7.5}}}},
  {"data":{"values":[{}]},"mark":{"type":"rule","color":"#000","strokeWidth":1},"encoding":{"x":{"datum":507,"type":"quantitative"},"y":{"datum":140,"type":"quantitative"},"y2":{"datum":525}}},
  {"data":{"values":[{}]},"mark":{"type":"point","shape":"triangle-up","filled":true,"color":"#000","size":18,"opacity":1},"encoding":{"x":{"datum":507,"type":"quantitative"},"y":{"datum":525,"type":"quantitative"}}},
  {"data":{"values":[{}]},"mark":{"type":"text","text":"Hexylamine","fontStyle":"italic","fontSize":12,"align":"center","baseline":"alphabetic"},"encoding":{"x":{"datum":574,"type":"quantitative"},"y":{"datum":540,"type":"quantitative"}}},
  {"data":{"values":[{}]},"mark":{"type":"text","text":"+DTT","fontStyle":"italic","fontSize":12,"align":"center","baseline":"alphabetic"},"encoding":{"x":{"datum":574,"type":"quantitative"},"y":{"datum":441,"type":"quantitative"}}},
  {"data":{"values":[{}]},"mark":{"type":"text","text":"D","fontWeight":"bold","fontSize":8,"align":"left","baseline":"alphabetic"},"encoding":{"x":{"datum":425,"type":"quantitative"},"y":{"datum":660,"type":"quantitative"}}}
 ]},
 {"width":123,"height":92,"layer":[
  {"mark":{"type":"line","strokeWidth":1.3,"interpolate":"monotone"},"transform":[{"filter":"datum.p==='F'"},{"fold":["0 h","1 h","2 h","3 h","4 h","5 h","15 h"],"as":["t","v"]}],
   "encoding":{"x":{"field":"w","type":"quantitative","scale":{"domain":[470,700],"nice":false,"zero":false},"axis":{"title":"Wavelength (nm)","values":[500,550,600,650,700],"tickCount":10,"labelOverlap":false}},
    "y":{"field":"v","type":"quantitative","scale":{"domain":[-10,600],"nice":false,"zero":false},"axis":{"title":"Intensity (a.u.)","values":[0,200,400,600],"tickCount":10,"labelOverlap":false}},
    "color":{"field":"t","type":"nominal","scale":{"domain":["0 h","1 h","2 h","3 h","4 h","5 h","15 h"],"range":["#000000","#ff0000","#70f030","#0000ff","#80ffff","#ff00ff","#808020"]},"legend":{"title":null,"orient":"none","legendX":92,"legendY":3.5}}}},
  {"data":{"values":[{}]},"mark":{"type":"rule","color":"#000","strokeWidth":1},"encoding":{"x":{"datum":503,"type":"quantitative"},"y":{"datum":70,"type":"quantitative"},"y2":{"datum":560}}},
  {"data":{"values":[{}]},"mark":{"type":"point","shape":"triangle-up","filled":true,"color":"#000","size":18,"opacity":1},"encoding":{"x":{"datum":503,"type":"quantitative"},"y":{"datum":560,"type":"quantitative"}}},
  {"data":{"values":[{}]},"mark":{"type":"rule","color":"#000","strokeWidth":1},"encoding":{"x":{"datum":570,"type":"quantitative"},"y":{"datum":360,"type":"quantitative"},"y2":{"datum":225}}},
  {"data":{"values":[{}]},"mark":{"type":"point","shape":"triangle-down","filled":true,"color":"#000","size":18,"opacity":1},"encoding":{"x":{"datum":570,"type":"quantitative"},"y":{"datum":225,"type":"quantitative"}}},
  {"data":{"values":[{}]},"mark":{"type":"text","text":"Octylamine","fontStyle":"italic","fontSize":12,"align":"center","baseline":"alphabetic"},"encoding":{"x":{"datum":569,"type":"quantitative"},"y":{"datum":540,"type":"quantitative"}}},
  {"data":{"values":[{}]},"mark":{"type":"text","text":"+DTT","fontStyle":"italic","fontSize":12,"align":"center","baseline":"alphabetic"},"encoding":{"x":{"datum":569,"type":"quantitative"},"y":{"datum":441,"type":"quantitative"}}},
  {"data":{"values":[{}]},"mark":{"type":"text","text":"F","fontWeight":"bold","fontSize":8,"align":"left","baseline":"alphabetic"},"encoding":{"x":{"datum":425,"type":"quantitative"},"y":{"datum":660,"type":"quantitative"}}}
 ]},
 {"width":123,"height":92,"layer":[
  {"mark":{"type":"line","strokeWidth":1.3,"interpolate":"monotone"},"transform":[{"filter":"datum.p==='H'"},{"fold":["0 h","1 h","2 h","3 h","4 h","5 h","15 h"],"as":["t","v"]}],
   "encoding":{"x":{"field":"w","type":"quantitative","scale":{"domain":[470,700],"nice":false,"zero":false},"axis":{"title":"Wavelength (nm)","values":[500,550,600,650,700],"tickCount":10,"labelOverlap":false}},
    "y":{"field":"v","type":"quantitative","scale":{"domain":[-10,600],"nice":false,"zero":false},"axis":{"title":"Intensity (a.u.)","values":[0,200,400,600],"tickCount":10,"labelOverlap":false}},
    "color":{"field":"t","type":"nominal","scale":{"domain":["0 h","1 h","2 h","3 h","4 h","5 h","15 h"],"range":["#000000","#ff0000","#70f030","#0000ff","#80ffff","#ff00ff","#808020"]},"legend":{"title":null,"orient":"none","legendX":90,"legendY":12.5}}}},
  {"data":{"values":[{}]},"mark":{"type":"rule","color":"#000","strokeWidth":1},"encoding":{"x":{"datum":502,"type":"quantitative"},"y":{"datum":115,"type":"quantitative"},"y2":{"datum":528}}},
  {"data":{"values":[{}]},"mark":{"type":"point","shape":"triangle-up","filled":true,"color":"#000","size":18,"opacity":1},"encoding":{"x":{"datum":502,"type":"quantitative"},"y":{"datum":528,"type":"quantitative"}}},
  {"data":{"values":[{}]},"mark":{"type":"text","text":"Decylamine","fontStyle":"italic","fontSize":12,"align":"center","baseline":"alphabetic"},"encoding":{"x":{"datum":577,"type":"quantitative"},"y":{"datum":540,"type":"quantitative"}}},
  {"data":{"values":[{}]},"mark":{"type":"text","text":"+DTT","fontStyle":"italic","fontSize":12,"align":"center","baseline":"alphabetic"},"encoding":{"x":{"datum":580,"type":"quantitative"},"y":{"datum":441,"type":"quantitative"}}},
  {"data":{"values":[{}]},"mark":{"type":"text","text":"H","fontWeight":"bold","fontSize":8,"align":"left","baseline":"alphabetic"},"encoding":{"x":{"datum":425,"type":"quantitative"},"y":{"datum":660,"type":"quantitative"}}}
 ]}
 ]
}
]
}
